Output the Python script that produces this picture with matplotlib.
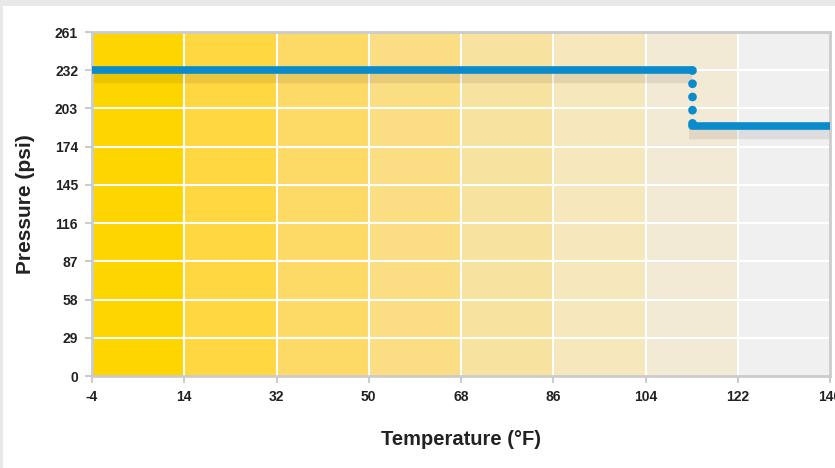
import matplotlib.pyplot as plt
import matplotlib.transforms as mtransforms
from matplotlib.patches import Rectangle

# data
x_ticks = [-4, 14, 32, 50, 68, 86, 104, 122, 140]
y_ticks = [0, 29, 58, 87, 116, 145, 174, 203, 232, 261]
band_colors = ['#FFD500', '#FFD740', '#FDDA66', '#FBDD84', '#F8E29F',
               '#F6E7BC', '#F2EAD5', '#F0F0F0']
high_temp = [-4, 113]
high_press = [232, 232]
drop_temp = [113, 113]
drop_press = [232, 190]
low_temp = [113, 140]
low_press = [190, 190]

plt.rcParams['font.family'] = ['Liberation Sans', 'DejaVu Sans']

fig = plt.figure(figsize=(8.35, 4.68), dpi=100)
fig.patch.set_facecolor('#E8E8E8')
fig.add_artist(Rectangle((3 / 835, 0), 1, 1 - 6 / 468, transform=fig.transFigure,
                         facecolor='white', edgecolor='none', zorder=-1))

ax = fig.add_axes([92 / 835, 1 - 376 / 468, 738 / 835, 344 / 468])
ax.set_xlim(-4, 140)
ax.set_ylim(0, 261)

for i, c in enumerate(band_colors):
    ax.axvspan(x_ticks[i], x_ticks[i + 1], color=c, lw=0, zorder=0)

for y in y_ticks[1:-1]:
    ax.axhline(y, color='white', lw=1.5, zorder=1)
for x in x_ticks[1:-1]:
    ax.axvline(x, color='white', lw=1.5, zorder=1)

# shadow under the line
shadow = mtransforms.offset_copy(ax.transData, fig=fig, x=0, y=-8, units='dots')
ax.plot(high_temp, high_press, color='black', alpha=0.08, lw=7.5,
        solid_capstyle='butt', transform=shadow, zorder=2)
ax.plot([112.4, 140], low_press, color='black', alpha=0.08, lw=7.5,
        solid_capstyle='butt', transform=shadow, zorder=2)

blue = '#0A8BCC'
ax.plot(high_temp, high_press, color=blue, lw=5.5, solid_capstyle='round', zorder=3)
ax.plot(low_temp, low_press, color=blue, lw=5.5, solid_capstyle='round', zorder=3)
ax.plot(drop_temp, drop_press, color=blue, lw=6.3, dashes=[0.01, 1.5],
        dash_capstyle='round', zorder=3)

ax.set_xticks(x_ticks)
ax.set_yticks(y_ticks)
ax.set_xticklabels([str(v) for v in x_ticks])
ax.set_yticklabels([str(v) for v in y_ticks])
ax.tick_params(colors='#CCCCCC', width=1.5, length=5, labelcolor='#222222',
               labelsize=10, pad=5)
for lab in ax.get_xticklabels() + ax.get_yticklabels():
    lab.set_fontweight('bold')

for s in ax.spines.values():
    s.set_color('#CCCCCC')
    s.set_linewidth(2)

ax.set_xlabel('Temperature (°F)', fontsize=14.5, fontweight='bold', color='#222222',
              labelpad=19)
ax.set_ylabel('Pressure (psi)', fontsize=15, fontweight='bold', color='#222222',
              labelpad=14)

fig.savefig('out.png', dpi=100, facecolor=fig.get_facecolor())
